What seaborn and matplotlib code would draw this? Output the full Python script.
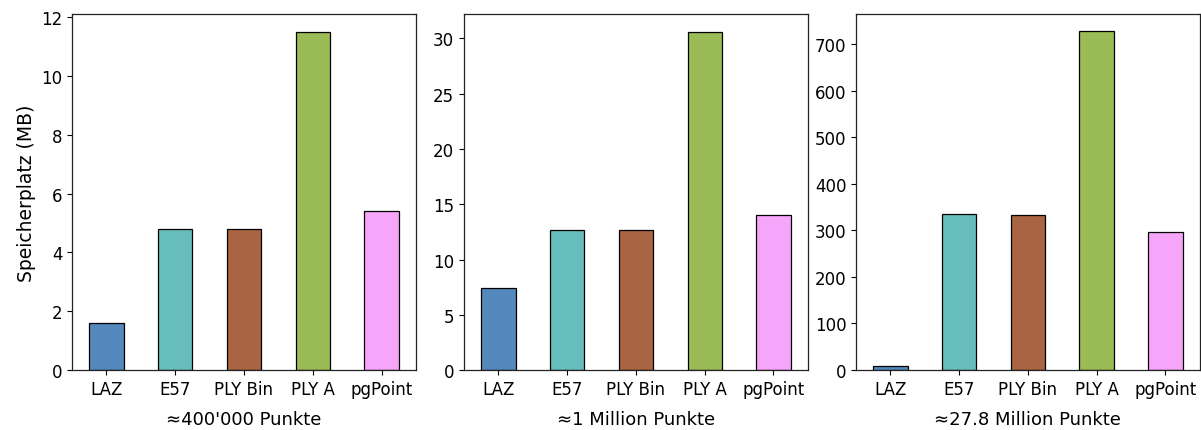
import matplotlib
matplotlib.use("Agg")
import matplotlib.pyplot as plt
import seaborn as sns
import pandas as pd

formats = ["LAZ", "E57", "PLY Bin", "PLY A", "pgPoint"]
size_400k = [1.6, 4.8, 4.8, 11.5, 5.4]
size_1m = [7.4, 12.7, 12.7, 30.6, 14.0]
size_27m = [9.5, 335, 333, 728, 297]
titles = ["≈400'000 Punkte", "≈1 Million Punkte", "≈27.8 Million Punkte"]
colors = ["#5588bd", "#66bdbc", "#a86443", "#9abb55", "#f7a5fa"]

plt.rcParams['font.family'] = ['DejaVu Sans']

fig, axes = plt.subplots(1, 3, figsize=(12.01, 4.31), dpi=100)
fig.subplots_adjust(left=0.06, right=0.999, top=0.965, bottom=0.139, wspace=0.14)

for ax, vals, title in zip(axes, [size_400k, size_1m, size_27m], titles):
    df = pd.DataFrame({"Format": formats, "MB": vals})
    sns.barplot(data=df, x="Format", y="MB", hue="Format", palette=colors,
                saturation=1, width=0.5, edgecolor="black", linewidth=0.9,
                legend=False, ax=ax)
    ax.set_xlabel(title, fontsize=13, labelpad=9)
    ax.set_ylabel("")
    ax.tick_params(labelsize=12, colors="black")
    for s in ax.spines.values():
        s.set_color("#222222")
        s.set_linewidth(0.9)

axes[0].set_ylabel("Speicherplatz (MB)", fontsize=13.5)
axes[0].set_ylim(0, 12.1)
axes[1].set_ylim(0, 32.2)
axes[2].set_ylim(0, 764)

fig.savefig("out.png", dpi=100)
